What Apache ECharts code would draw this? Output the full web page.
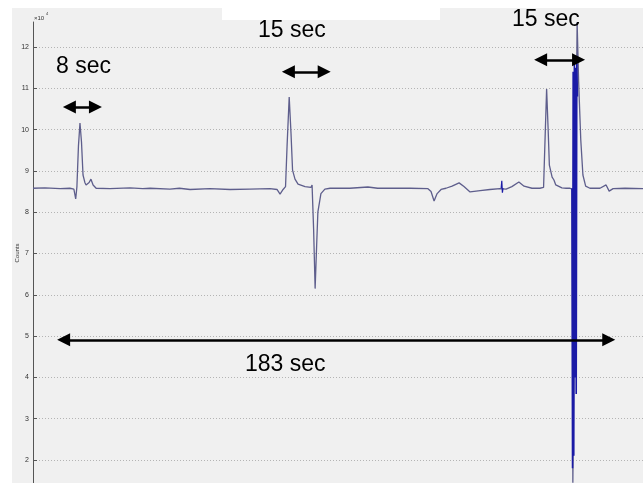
<!DOCTYPE html>
<html>
<head>
<meta charset="utf-8">
<script src="https://cdn.jsdelivr.net/npm/echarts@6/dist/echarts.min.js"></script>
<style>
  html, body { margin: 0; padding: 0; background: #ffffff; }
  #chart { width: 643px; height: 483px; }
</style>
</head>
<body>
<div id="chart"></div>
<script>
// Detector counts over time (seconds), counts in units of 1e4.
const traceTime = [
  0, 3.9, 8.9, 12.1, 13.4, 14.0, 14.4, 14.9, 15.4, 15.9, 16.4, 17.0, 17.4, 18.4, 19.0, 19.7, 20.7,
  25.2, 31.8, 36.0, 38.4, 44.9, 48.0, 51.5, 58.0, 64.6, 71.1, 77.7, 80.0, 81.0, 82.0, 82.8,
  83.3, 84.0, 84.6, 85.1, 85.9, 86.9, 89.2, 91.1, 91.5, 92.0, 92.5, 93.0, 93.4, 94.4, 95.7,
  97.4, 103.9, 109.8, 113.0, 117.0, 123.6, 129.5, 130.5, 131.5, 132.5, 133.8, 135.4, 137.4,
  139.7, 141.3, 143.3, 146.6, 149.8, 153.1, 153.6, 155.1, 157.0, 159.3, 161.0, 163.6, 166.2,
  167.4, 167.9, 168.4, 168.9, 169.3, 170.2, 170.8, 171.4, 171.8, 173.4, 174.8, 176.1, 176.8,
  177.0, 178.4, 178.9, 179.6, 180.3, 181.2, 182.6, 185.9, 187.9, 188.9, 190.2, 194.1, 200.0
];
const traceCounts = [
  8.58, 8.59, 8.57, 8.58, 8.56, 8.32, 8.62, 9.60, 10.16, 9.70, 8.90, 8.72, 8.66, 8.72, 8.80, 8.66, 8.58,
  8.57, 8.59, 8.57, 8.58, 8.56, 8.58, 8.55, 8.57, 8.55, 8.56, 8.57, 8.55, 8.44, 8.55, 8.62,
  9.60, 10.79, 9.90, 9.02, 8.80, 8.68, 8.62, 8.60, 8.66, 7.60, 6.15, 7.20, 8.00, 8.45, 8.56,
  8.58, 8.58, 8.61, 8.58, 8.58, 8.58, 8.57, 8.50, 8.27, 8.45, 8.55, 8.58, 8.63,
  8.71, 8.62, 8.49, 8.52, 8.55, 8.57, 8.58, 8.56, 8.62, 8.73, 8.63, 8.58, 8.58,
  8.60, 9.80, 10.98, 10.00, 9.14, 8.85, 8.78, 8.66, 8.62, 8.59, 8.58, 8.58, 8.55,
  1.45, 12.60, 11.15, 9.75, 8.90, 8.63, 8.58, 8.58, 8.66, 8.51, 8.57, 8.58, 8.57
];

// Short blip and fast burst, drawn in a stronger colour.
const blipTime = [153.5, 153.7, 153.9, 154.1];
const blipCounts = [8.58, 8.76, 8.47, 8.58];
const burstTime = [176.7, 176.9, 177.1, 177.3, 177.5, 177.7, 177.9, 178.1, 178.3, 178.5];
const burstCounts = [8.58, 1.80, 11.40, 2.10, 11.60, 4.00, 11.50, 3.60, 11.60, 10.80];

// Interval annotations: label, start (s), end (s), level (1e4 counts).
const spanLabels = ['8 sec', '15 sec', '15 sec', '183 sec'];
const spanStart = [9.8, 81.6, 164.3, 7.9];
const spanEnd   = [22.6, 97.6, 181.0, 190.9];
const spanLevel = [10.55, 11.40, 11.69, 4.91];

const yTicks = [1, 13, 1]; // min, max, step of the count axis
const timeRange = [0, 200];

const pair = (ts, vs) => ts.map((t, i) => [t, vs[i]]);

const FONT = '"Liberation Sans", Arial, sans-serif';
const GRID_LEFT = 33;
const CHART_W = 643;
const HEAD = 13; // arrow head length in px

// arrow heads are centred on the line ends; pull the ends in so tips sit on the span
const secPerPx = (timeRange[1] - timeRange[0]) / (CHART_W - GRID_LEFT);
const inset = (HEAD / 2) * secPerPx;
const arrowData = spanLabels.map((_, i) => [
  { coord: [spanStart[i] + inset, spanLevel[i]] },
  { coord: [spanEnd[i] - inset, spanLevel[i]] }
]);

const chart = echarts.init(document.getElementById('chart'), null, { renderer: 'canvas' });

chart.setOption({
  animation: false,
  backgroundColor: '#f0f0f0',
  grid: [
    { left: GRID_LEFT, right: 0, top: 5.7, height: 495.6, outerBoundsMode: 'none', containLabel: false },
    { left: GRID_LEFT, right: 0, top: 22, bottom: 0, outerBoundsMode: 'none', containLabel: false }
  ],
  xAxis: [
    { type: 'value', gridIndex: 0, min: timeRange[0], max: timeRange[1], show: false },
    { type: 'value', gridIndex: 1, min: 0, max: 1, show: false }
  ],
  yAxis: [
    {
      type: 'value', gridIndex: 0,
      min: yTicks[0], max: yTicks[1], interval: yTicks[2],
      axisLine: { show: false },
      axisTick: { show: true, inside: true, length: 4, lineStyle: { color: '#555', width: 1 } },
      axisLabel: { show: true, fontSize: 7, color: '#333', fontFamily: FONT, margin: 4,
                   showMaxLabel: false, showMinLabel: false },
      splitLine: { show: true, lineStyle: { color: '#b4b4b4', type: [1, 2], width: 1 } }
    },
    {
      type: 'value', gridIndex: 1, min: 0, max: 1,
      axisLine: { show: true, lineStyle: { color: '#555', width: 1 } },
      axisTick: { show: false }, axisLabel: { show: false }, splitLine: { show: false }
    }
  ],
  series: [
    {
      type: 'line', xAxisIndex: 0, yAxisIndex: 0,
      data: pair(traceTime, traceCounts),
      showSymbol: false, symbol: 'none',
      lineStyle: { color: '#5e5e8c', width: 1.3 },
      z: 3,
      markLine: {
        silent: true,
        symbol: ['triangle', 'triangle'],
        symbolSize: [HEAD, HEAD],
        lineStyle: { color: '#000', width: 2.5, type: 'solid' },
        label: { show: false },
        emphasis: { disabled: true },
        data: arrowData
      }
    },
    {
      type: 'line', xAxisIndex: 0, yAxisIndex: 0,
      data: pair(blipTime, blipCounts),
      showSymbol: false, symbol: 'none',
      lineStyle: { color: '#1a1aa6', width: 1.2 },
      z: 4
    },
    {
      type: 'line', xAxisIndex: 0, yAxisIndex: 0,
      data: pair(burstTime, burstCounts),
      showSymbol: false, symbol: 'none',
      lineStyle: { color: '#1a1aa6', width: 1.6 },
      z: 4
    }
  ],
  graphic: [
    // white page margins around the plot panel
    { type: 'rect', z: 100, shape: { x: 0, y: 0, width: 12, height: 483 }, style: { fill: '#ffffff' } },
    { type: 'rect', z: 100, shape: { x: 0, y: 0, width: 643, height: 8 }, style: { fill: '#ffffff' } },
    { type: 'rect', z: 100, shape: { x: 222, y: 0, width: 218, height: 20 }, style: { fill: '#ffffff' } },
    // axis exponent and name
    { type: 'text', z: 101, style: { x: 34, y: 18, text: '×10', fontSize: 6, fill: '#333', fontFamily: FONT, verticalAlign: 'middle' } },
    { type: 'text', z: 101, style: { x: 46, y: 14, text: '4', fontSize: 4, fill: '#333', fontFamily: FONT, verticalAlign: 'middle' } },
    { type: 'text', z: 101, x: 17, y: 253, rotation: Math.PI / 2,
      style: { x: 0, y: 0, text: 'Counts', fontSize: 6, fill: '#333', fontFamily: FONT, align: 'center', verticalAlign: 'middle' } },
    // interval labels
    { type: 'text', z: 101, style: { x: 56, y: 67, text: spanLabels[0], fontSize: 23, fill: '#000', fontFamily: FONT, verticalAlign: 'middle' } },
    { type: 'text', z: 101, style: { x: 258, y: 31, text: spanLabels[1], fontSize: 23, fill: '#000', fontFamily: FONT, verticalAlign: 'middle' } },
    { type: 'text', z: 101, style: { x: 512, y: 19.5, text: spanLabels[2], fontSize: 23, fill: '#000', fontFamily: FONT, verticalAlign: 'middle' } },
    { type: 'text', z: 101, style: { x: 245, y: 365, text: spanLabels[3], fontSize: 23, fill: '#000', fontFamily: FONT, verticalAlign: 'middle' } }
  ]
});
</script>
</body>
</html>
